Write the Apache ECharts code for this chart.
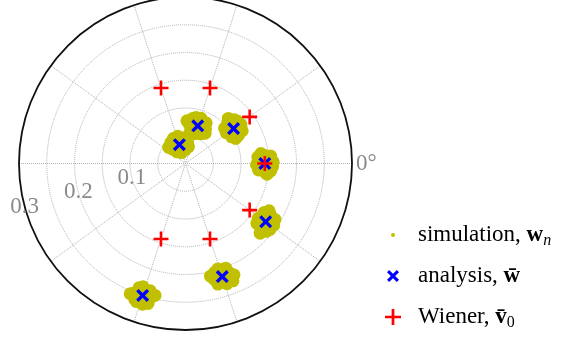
<!DOCTYPE html>
<html><head><meta charset="utf-8">
<script src="https://cdn.jsdelivr.net/npm/echarts@6/dist/echarts.min.js"></script>
<style>html,body{margin:0;padding:0;background:#fff}#c{width:584px;height:339px}</style>
</head><body><div id="c"></div>
<script>
// ---- data ----
const analysisAngle  = [108, 72, 36, 0, -36, -72, -108];
const analysisRadius = [0.0357, 0.0714, 0.1071, 0.1429, 0.1786, 0.2143, 0.25];
const wienerAngle    = [108, 72, 36, 0, -36, -72, -108];
const wienerRadius   = [0.1429, 0.1429, 0.1429, 0.1429, 0.1429, 0.1429, 0.1429];
// simulation clouds: [radius, angle]
const simulationPoints = [
  [0.036,108],[0.051,106],[0.021,110],[0.037,84],[0.035,132],[0.047,91],[0.046,125],[0.025,91],[0.026,126],[0.042,136],[0.031,80],[0.050,116],
  [0.071,72],[0.086,71],[0.056,73],[0.072,60],[0.070,84],[0.082,63],[0.082,81],[0.060,63],[0.059,81],[0.077,88],[0.065,57],[0.085,77],
  [0.107,36],[0.122,35],[0.092,37],[0.108,28],[0.106,44],[0.118,30],[0.118,42],[0.096,30],[0.095,42],[0.112,46.5],[0.101,26.5],[0.121,39],
  [0.143,0],[0.158,1],[0.128,-1],[0.144,-6],[0.142,6],[0.154,-5],[0.154,5],[0.132,-5],[0.131,5],[0.148,-7.5],[0.137,7.5],[0.157,-2],
  [0.179,-36],[0.194,-35],[0.164,-37],[0.180,-41],[0.178,-31],[0.190,-40],[0.190,-32],[0.168,-40],[0.167,-32],[0.184,-43],[0.173,-29.5],[0.193,-38],
  [0.214,-72],[0.229,-71],[0.199,-73],[0.215,-76],[0.213,-68],[0.225,-75],[0.225,-69],[0.203,-75],[0.202,-69],[0.219,-66.5],[0.208,-77.5],[0.228,-68],
  [0.25,-108],[0.265,-107],[0.235,-109],[0.251,-111.5],[0.249,-104.5],[0.261,-110.5],[0.261,-105],[0.239,-110.5],[0.238,-105.5],[0.255,-113],[0.244,-103],[0.264,-109.5]
];
const radiusTickLabels = ['0.1', '0.2', '0.3'];
const angleTickLabel = '0\u00b0';
const seriesNames = ['simulation', 'analysis', 'Wiener'];

// ---- styling ----
const FONT = 'Liberation Serif';
const GRID = { color: '#b0b0b0', type: 'dotted', width: 1 };
const PLUS = 'path://M41.5 0H58.5V41.5H100V58.5H58.5V100H41.5V58.5H0V41.5H41.5Z';
const CROSS = 'path://M0 18L18 0L50 32L82 0L100 18L68 50L100 82L82 100L50 68L18 100L0 82L32 50Z';
const DOT_ICON = 'path://M0 0M100 100M45 50a5 5 0 1 0 10 0a5 5 0 1 0 -10 0Z';
const CROSS_ICON = 'path://M0 0M100 100M35 40.4L40.4 35L50 44.6L59.6 35L65 40.4L55.4 50L65 59.6L59.6 65L50 55.4L40.4 65L35 59.6L44.6 50Z';
const PLUS_ICON = 'path://M0 0M100 100M46.6 30H53.4V46.6H70V53.4H53.4V70H46.6V53.4H30V46.6H46.6Z';

const chart = echarts.init(document.getElementById('c'), null, { renderer: 'canvas' });
const legendText = {
  simulation: '{t|simulation, }{b|w}{n|n}',
  analysis: '{t|analysis, }{b|w\u0304}',
  Wiener: '{t|Wiener, }{b|v\u0304}{z|0}'
};
chart.setOption({
  animation: false,
  backgroundColor: '#fff',
  polar: [
    { center: [185.5, 163.5], radius: 166.5 },
    { center: [185.5, 163.5], radius: 166.5 }
  ],
  angleAxis: [
    { polarIndex: 0, type: 'value', min: -180, max: 180, interval: 36, startAngle: 180, clockwise: false,
      axisLine: { lineStyle: { color: '#111', width: 1.8 } },
      axisTick: { show: false },
      axisLabel: { formatter: v => (v === 0 ? angleTickLabel : ''), color: '#8a8a8a', fontFamily: FONT, fontSize: 23, margin: 4 },
      splitLine: { lineStyle: GRID } },
    { polarIndex: 1, type: 'value', min: 0, max: 360, startAngle: 195, clockwise: false, show: false }
  ],
  radiusAxis: [
    { polarIndex: 0, type: 'value', min: 0, max: 0.3, interval: 0.05,
      axisLine: { show: false }, axisTick: { show: false }, axisLabel: { show: false },
      splitLine: { lineStyle: GRID } },
    { polarIndex: 1, type: 'value', min: 0, max: 0.3, interval: 0.1, z: 1,
      axisLine: { show: false }, axisTick: { show: false }, splitLine: { show: false },
      axisLabel: { formatter: (v, i) => (i === 0 ? '' : radiusTickLabels[i - 1]), align: 'center', verticalAlign: 'middle',
        color: '#8a8a8a', fontFamily: FONT, fontSize: 23, margin: 0 } }
  ],
  legend: {
    orient: 'vertical', left: 373, top: 215, padding: 0, itemWidth: 40, itemHeight: 40, itemGap: 1,
    selectedMode: false,
    data: [
      { name: seriesNames[0], icon: DOT_ICON },
      { name: seriesNames[1], icon: CROSS_ICON },
      { name: seriesNames[2], icon: PLUS_ICON }
    ],
    formatter: name => legendText[name],
    textStyle: {
      fontFamily: FONT, fontSize: 23, color: '#000',
      rich: {
        t: { fontFamily: FONT, fontSize: 23, lineHeight: 28, verticalAlign: 'middle', color: '#000' },
        b: { fontFamily: FONT, fontSize: 23, fontWeight: 'bold', lineHeight: 28, verticalAlign: 'middle', color: '#000' },
        n: { fontFamily: FONT, fontSize: 16, fontStyle: 'italic', lineHeight: 28, verticalAlign: 'bottom', color: '#000' },
        z: { fontFamily: FONT, fontSize: 16, lineHeight: 28, verticalAlign: 'bottom', color: '#000' }
      }
    }
  },
  series: [
    { name: seriesNames[0], type: 'scatter', coordinateSystem: 'polar', polarIndex: 0,
      symbol: 'circle', symbolSize: 13, itemStyle: { color: '#c0c000', opacity: 1 },
      data: simulationPoints, z: 2 },
    { name: seriesNames[1], type: 'scatter', coordinateSystem: 'polar', polarIndex: 0,
      symbol: CROSS, symbolSize: 13, itemStyle: { color: '#0000ff', opacity: 1 },
      data: analysisRadius.map((r, i) => [r, analysisAngle[i]]), z: 3 },
    { name: seriesNames[2], type: 'scatter', coordinateSystem: 'polar', polarIndex: 0,
      symbol: PLUS, symbolSize: 15, itemStyle: { color: '#ff0000', opacity: 1 },
      data: wienerRadius.map((r, i) => [r, wienerAngle[i]]), z: 4 }
  ]
});
</script></body></html>
